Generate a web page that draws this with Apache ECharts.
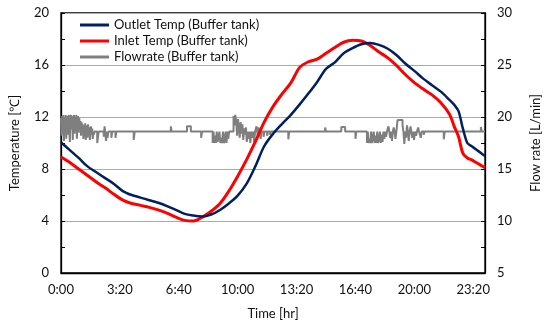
<!DOCTYPE html>
<html><head><meta charset="utf-8">
<script src="https://cdn.jsdelivr.net/npm/echarts@6/dist/echarts.min.js"></script>
<style>html,body{margin:0;padding:0;background:#fff}#c{width:550px;height:325px}</style>
</head><body><div id="c"></div>
<script>
// Time (hours) for temperature readings
const tempHours = [0,0.5,1,1.5,2,2.5,3,3.5,4,4.5,5,5.5,6,6.5,7,7.5,8,8.5,9,9.5,10,10.5,11,11.5,12,12.5,13,13.5,14,14.5,15,15.5,16,16.5,17,17.5,18,18.5,19,19.5,20,20.5,21,21.5,22,22.25,22.5,22.75,23,23.25,23.5,23.75,24];
const outletTemp = [10.05,9.45,8.85,8.2,7.75,7.3,6.85,6.3,6.0,5.8,5.6,5.4,5.15,4.85,4.55,4.42,4.35,4.5,4.85,5.35,5.95,6.85,8.2,9.75,10.7,11.45,12.15,12.95,13.8,14.7,15.7,16.2,16.9,17.3,17.6,17.7,17.55,17.25,16.75,16.1,15.55,14.95,14.45,13.95,13.3,12.95,12.45,11.1,10.0,9.75,9.5,9.25,9.0];
const inletTemp = [8.93,8.5,8.0,7.5,7.0,6.55,6.05,5.6,5.35,5.2,5.05,4.85,4.6,4.3,4.05,4.0,4.3,4.75,5.35,6.3,7.45,8.7,10.1,11.6,12.8,13.75,14.6,15.8,16.25,16.45,16.9,17.35,17.75,17.9,17.85,17.5,17.0,16.55,15.95,15.25,14.65,14.15,13.7,13.1,12.2,11.3,10.5,9.2,8.85,8.7,8.5,8.3,8.1];
// Flowrate readings (minutes, L/min)
const flowMinutes = [0,2,4,6,8,10,12,14,16,18,20,22,24,26,28,30,32,34,36,38,40,42,44,46,48,50,52,54,56,58,60,62,64,66,
 68,70,72,74,76,78,80,82,84,86,88,90,92,94,96,98,100,102,104,106,108,110,112,114,
 123,128,145,148,150,153,156,158,161,171,174,185,188,247,250,373,376,428,441,476,479,
 515,518,520,523,526,529,532,535,538,541,544,547,550,553,556,559,562,565,568,571,
 586,589,592,595,598,601,604,607,610,613,616,619,622,625,628,631,634,637,640,643,646,
 650,653,656,659,664,668,671,674,678,681,688,691,700,703,710,713,
 772,775,897,900,952,965,1000,1003,
 1039,1042,1044,1047,1050,1053,1056,1059,1062,1065,1068,1071,1074,1077,1080,1083,1086,1089,1092,1095,1098,1101,1104,1107,
 1112,1115,1118,1121,1124,1127,1130,1133,1136,1139,
 1143,1147,1151,1155,1160,1163,
 1166,1169,1172,1175,1178,1181,1184,1187,1190,1193,1196,1199,1202,1206,1209,1213,1216,1222,1225,1232,1235,
 1300,1303,1426,1429,1440];
const flowRate = [19.9,18.2,20.1,19.0,20.2,17.7,20.0,18.6,20.2,17.9,19.8,20.1,18.3,20.2,19.2,17.6,20.0,20.2,18.8,20.1,17.8,19.9,20.2,18.4,20.0,19.3,20.2,17.9,19.8,20.1,18.5,19.9,18.9,19.6,
 18.2,19.5,18.6,19.3,17.9,19.1,18.4,19.4,17.8,18.9,19.2,18.0,19.3,18.6,19.0,17.8,18.6,19.1,18.3,18.9,17.9,18.6,18.3,18.6,
 17.5,18.6,18.1,19.1,18.6,17.7,18.6,18.0,18.6,18.0,18.6,18.0,18.6,17.8,18.6,19.1,18.6,19.1,18.6,18.0,18.6,
 17.5,18.6,17.5,18.2,17.5,18.6,17.6,17.5,18.6,17.5,18.0,17.5,18.6,17.5,17.7,18.6,17.5,18.6,17.9,18.6,
 20.1,19.2,20.2,19.6,18.2,19.8,19.1,18.0,19.5,18.4,19.3,17.8,18.9,18.3,19.0,17.6,18.6,17.9,18.6,17.5,18.6,
 18.0,18.6,17.6,18.6,19.1,18.2,19.0,18.6,17.9,18.6,18.1,18.6,18.2,18.6,18.3,18.6,
 17.85,18.6,19.0,18.6,19.05,18.6,17.9,18.6,
 17.5,18.6,17.5,17.9,17.5,18.6,17.5,17.6,18.6,17.5,18.2,17.5,18.6,17.5,17.8,18.6,17.5,18.3,17.6,18.6,17.9,18.6,18.1,18.6,
 19.1,18.6,18.0,18.6,17.7,18.6,19.0,18.6,17.9,18.6,
 19.7,19.7,19.6,19.7,19.2,18.6,
 17.4,18.6,18.0,19.2,18.6,17.7,18.6,19.1,18.6,18.0,18.6,17.8,18.6,18.2,18.6,19.0,18.6,18.0,18.6,18.3,18.6,
 17.85,18.6,19.05,18.6,18.6];
const xTickMinutes = [0,200,400,600,800,1000,1200,1400];
const xTickLabels = ['0:00','3:20','6:40','10:00','13:20','16:40','20:00','23:20'];
const seriesNames = ['Outlet Temp (Buffer tank)','Inlet Temp (Buffer tank)','Flowrate (Buffer tank)'];

const FONT = 'Lato';
const chart = echarts.init(document.getElementById('c'), null, {renderer:'canvas'});
const outletData = tempHours.map((h,i)=>[h*60, outletTemp[i]]);
const inletData = tempHours.map((h,i)=>[h*60, inletTemp[i]]);
const flowData = flowMinutes.map((m,i)=>[m, flowRate[i]]);
const axisLabelStyle = {color:'#111', fontFamily:FONT, fontSize:13};

chart.setOption({
  animation:false,
  backgroundColor:'#fff',
  grid:{left:52, right:58, top:13, bottom:50, show:true, borderColor:'#000', borderWidth:1.3, backgroundColor:'transparent'},
  legend:{
    orient:'vertical', left:80, top:17, padding:0, itemWidth:29, itemHeight:3, itemGap:0,
    icon:'rect',
    data:seriesNames,
    textStyle:{fontFamily:FONT, fontSize:13, color:'#111', lineHeight:16, height:16}
  },
  xAxis:{
    type:'value', min:0, max:1440, interval:200,
    name:'Time [hr]', nameLocation:'middle', nameGap:34,
    nameTextStyle:{fontFamily:FONT, fontSize:13, color:'#111'},
    axisLine:{show:true, lineStyle:{color:'#000', width:1.3}},
    axisTick:{show:false},
    splitLine:{show:false},
    axisLabel:Object.assign({margin:10, formatter:(v)=>{const i=xTickMinutes.indexOf(v);return i>=0?xTickLabels[i]:'';}}, axisLabelStyle)
  },
  yAxis:[{
    type:'value', min:0, max:20, interval:4, position:'left',
    name:'Temperature [℃]', nameLocation:'middle', nameGap:40, nameRotate:90,
    nameTextStyle:{fontFamily:FONT, fontSize:13, color:'#111'},
    axisLine:{show:true, lineStyle:{color:'#000', width:1.3}},
    axisTick:{show:true, inside:true, length:4, lineStyle:{color:'#000'}},
    minorTick:{show:true, splitNumber:2, length:4, lineStyle:{color:'#000'}},
    splitLine:{show:true, lineStyle:{color:'#aaaaaa', width:1}},
    axisLabel:Object.assign({margin:12}, axisLabelStyle)
  },{
    type:'value', min:5, max:30, interval:5, position:'right',
    name:'Flow rate [L/min]', nameLocation:'middle', nameGap:44, nameRotate:90,
    nameTextStyle:{fontFamily:FONT, fontSize:13, color:'#111'},
    axisLine:{show:true, lineStyle:{color:'#000', width:1.3}},
    axisTick:{show:true, inside:true, length:4, lineStyle:{color:'#000'}},
    minorTick:{show:true, splitNumber:2, length:4, lineStyle:{color:'#000'}},
    splitLine:{show:false},
    axisLabel:Object.assign({margin:12}, axisLabelStyle)
  }],
  series:[
    {name:seriesNames[2], type:'line', yAxisIndex:1, data:flowData, step:'end', showSymbol:false, z:1,
      lineStyle:{color:'#7f7f7f', width:2}, itemStyle:{color:'#7f7f7f'}},
    {name:seriesNames[0], type:'line', data:outletData, showSymbol:false, smooth:0.3, z:3,
      lineStyle:{color:'#002060', width:2.5}, itemStyle:{color:'#002060'}},
    {name:seriesNames[1], type:'line', data:inletData, showSymbol:false, smooth:0.3, z:2,
      lineStyle:{color:'#ff0000', width:3}, itemStyle:{color:'#ff0000'}}
  ]
});
</script></body></html>
